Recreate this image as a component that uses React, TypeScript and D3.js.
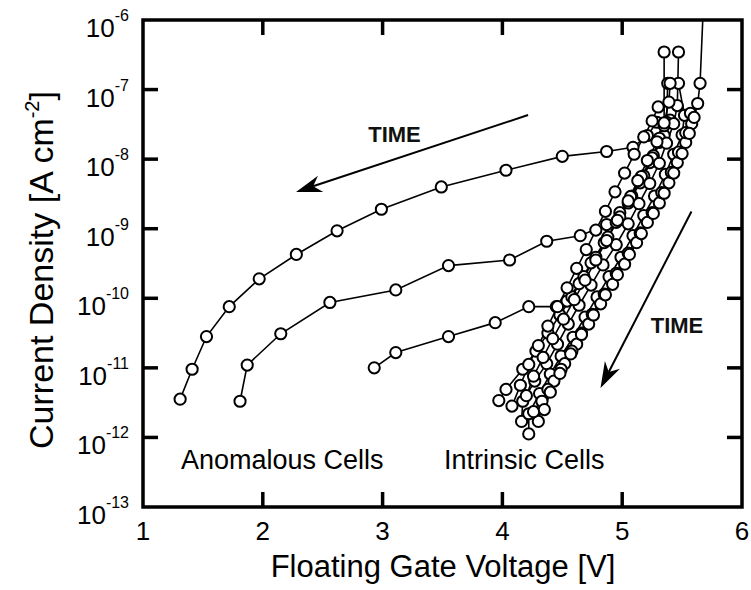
import React from 'react';
import * as d3 from 'd3';

// ---- axis ticks ----
const xTickValues = [1, 2, 3, 4, 5, 6];
const yTickExponents = [-6, -7, -8, -9, -10, -11, -12, -13];

// ---- data: [floating gate voltage (V), log10 current density (A/cm^2)] ----
const anomalousA: [number, number][] = [
  [1.31, -11.45], [1.41, -11.02], [1.53, -10.55], [1.72, -10.12], [1.97, -9.72],
  [2.28, -9.37], [2.62, -9.03], [2.99, -8.72], [3.49, -8.40], [4.03, -8.16],
  [4.50, -7.96], [4.87, -7.89], [5.09, -7.83], [5.21, -7.66], [5.29, -7.47],
];
const anomalousB: [number, number][] = [
  [1.81, -11.48], [1.87, -10.96], [2.15, -10.51], [2.56, -10.06], [3.11, -9.88],
  [3.55, -9.53], [4.06, -9.45], [4.37, -9.18], [4.65, -9.10], [4.87, -8.94],
  [4.98, -8.77], [5.08, -8.53], [5.18, -8.24], [5.26, -7.95], [5.35, -7.66], [5.40, -7.44],
];
const anomalousC: [number, number][] = [
  [2.93, -11.00], [3.11, -10.78], [3.55, -10.55], [3.94, -10.35], [4.22, -10.12],
  [4.45, -10.12], [4.54, -10.04], [4.64, -9.79], [4.74, -9.49], [4.85, -9.20],
  [4.95, -8.91], [5.05, -8.63], [5.15, -8.34], [5.23, -8.05], [5.31, -7.76],
  [5.37, -7.47], [5.38, -6.91],
];
const intrinsic1: [number, number][] = [
  [3.97, -11.47], [4.03, -11.31], [4.17, -11.02], [4.28, -10.76], [4.38, -10.50],
  [4.48, -10.24], [4.58, -9.98], [4.68, -9.69], [4.78, -9.41], [4.88, -9.12],
  [4.98, -8.83], [5.07, -8.54], [5.16, -8.25], [5.25, -7.98], [5.31, -7.70],
  [5.35, -7.52], [5.35, -6.46],
];
const intrinsic2: [number, number][] = [
  [4.16, -11.77], [4.17, -11.48], [4.27, -11.19], [4.37, -10.94], [4.46, -10.66],
  [4.55, -10.37], [4.64, -10.10], [4.74, -9.81], [4.84, -9.52], [4.95, -9.23],
  [5.05, -8.93], [5.14, -8.64], [5.23, -8.35], [5.31, -8.06], [5.37, -7.77],
  [5.43, -7.49], [5.46, -7.23], [5.47, -6.46],
];
const intrinsic3: [number, number][] = [
  [4.22, -11.95], [4.22, -11.66], [4.31, -11.37], [4.40, -11.09], [4.49, -10.83],
  [4.59, -10.56], [4.69, -10.27], [4.79, -9.98], [4.89, -9.69], [4.99, -9.41],
  [5.09, -9.10], [5.18, -8.81], [5.27, -8.53], [5.36, -8.22], [5.43, -7.93],
  [5.50, -7.65], [5.52, -7.37], [5.47, -6.91],
];
const intrinsic4: [number, number][] = [
  [4.30, -11.77], [4.33, -11.48], [4.43, -11.19], [4.52, -10.94], [4.62, -10.66],
  [4.72, -10.37], [4.82, -10.08], [4.92, -9.80], [5.02, -9.51], [5.12, -9.20],
  [5.21, -8.91], [5.31, -8.63], [5.39, -8.34], [5.46, -8.05], [5.53, -7.76],
  [5.58, -7.49], [5.63, -7.20], [5.65, -6.91], [5.69, -5.28],
];
const intrinsic5: [number, number][] = [
  [4.26, -11.63], [4.38, -11.31], [4.49, -11.02], [4.58, -10.76], [4.66, -10.50],
  [4.75, -10.23], [4.85, -9.94], [4.95, -9.64], [5.05, -9.35], [5.15, -9.06],
  [5.25, -8.77], [5.33, -8.48], [5.41, -8.19], [5.47, -7.90], [5.53, -7.62],
  [5.57, -7.34],
];
const intrinsic6: [number, number][] = [
  [4.08, -11.55], [4.15, -11.25], [4.22, -10.95], [4.30, -10.68], [4.38, -10.40],
  [4.46, -10.12], [4.54, -9.85], [4.62, -9.57], [4.70, -9.30], [4.78, -9.02],
  [4.86, -8.75], [4.94, -8.47], [5.02, -8.20], [5.10, -7.93], [5.18, -7.68],
  [5.25, -7.45], [5.30, -7.25],
];
const intrinsic7: [number, number][] = [
  [4.20, -11.40], [4.26, -11.12], [4.34, -10.85], [4.42, -10.58], [4.51, -10.30],
  [4.60, -10.02], [4.69, -9.74], [4.78, -9.45], [4.87, -9.17], [4.96, -8.88],
  [5.05, -8.60], [5.13, -8.31], [5.21, -8.02], [5.29, -7.75], [5.35, -7.48],
  [5.39, -7.18], [5.40, -6.91],
];
const intrinsic8: [number, number][] = [
  [4.35, -11.60], [4.40, -11.35], [4.48, -11.08], [4.57, -10.80], [4.66, -10.52],
  [4.76, -10.24], [4.86, -9.95], [4.96, -9.66], [5.06, -9.37], [5.16, -9.07],
  [5.26, -8.78], [5.35, -8.49], [5.43, -8.20], [5.50, -7.92], [5.56, -7.63],
  [5.60, -7.40],
];

const allCurves = [
  anomalousA, anomalousB, anomalousC,
  intrinsic1, intrinsic2, intrinsic3, intrinsic4, intrinsic5,
  intrinsic6, intrinsic7, intrinsic8,
];

// TIME arrows: [from, to] in [V, log10 J]
const timeArrows: [[number, number], [number, number]][] = [
  [[4.214, -7.366], [2.277, -8.472]],
  [[5.578, -8.753], [4.819, -11.29]],
];

const FONT = '"Liberation Sans", Arial, Helvetica, sans-serif';

export default function App() {
  const W = 751;
  const H = 590;
  const left = 143;
  const right = 742;
  const top = 20;
  const bottom = 507;

  const x = d3.scaleLinear().domain([1, 6]).range([left, right]);
  const y = d3.scaleLog().domain([1e-13, 1e-6]).range([bottom, top]);
  const px = (d: [number, number]) => x(d[0]);
  const py = (d: [number, number]) => y(Math.pow(10, d[1]));
  const line = d3.line<[number, number]>().x(px).y(py);

  const tickLen = 15;
  const frameW = 3.5;

  const arrowHead = (from: [number, number], to: [number, number]) => {
    const x1 = px(from), y1 = py(from), x2 = px(to), y2 = py(to);
    const dx = x1 - x2, dy = y1 - y2;
    const len = Math.hypot(dx, dy);
    const ux = dx / len, uy = dy / len;
    const nx = -uy, ny = ux;
    const L = 26, hw = 8.5, notch = 18;
    const pts = [
      [x2, y2],
      [x2 + ux * L + nx * hw, y2 + uy * L + ny * hw],
      [x2 + ux * notch, y2 + uy * notch],
      [x2 + ux * L - nx * hw, y2 + uy * L - ny * hw],
    ];
    return {
      d: 'M' + pts.map((p) => p[0].toFixed(1) + ',' + p[1].toFixed(1)).join('L') + 'Z',
      lx: x2 + ux * notch,
      ly: y2 + uy * notch,
      x1,
      y1,
    };
  };

  return (
    <svg
      width={W}
      height={H}
      style={{ position: 'absolute', left: 0, top: 0, background: '#fff' }}
      fontFamily={FONT}
    >
      <defs>
        <clipPath id="plotClip">
          <rect x={left} y={top} width={right - left} height={bottom - top} />
        </clipPath>
      </defs>
      <rect x={0} y={0} width={W} height={H} fill="#fff" />

      {/* curves */}
      <g clipPath="url(#plotClip)">
        {allCurves.map((c, i) => (
          <path key={'l' + i} d={line(c) || ''} fill="none" stroke="#000" strokeWidth={1.6} />
        ))}
        {allCurves.map((c, i) =>
          c
            .filter((d) => d[1] <= -6)
            .map((d, j) => (
              <circle
                key={'c' + i + '-' + j}
                cx={px(d)}
                cy={py(d)}
                r={5.6}
                fill="#fff"
                stroke="#000"
                strokeWidth={2}
              />
            ))
        )}
      </g>

      {/* frame */}
      <rect
        x={left}
        y={top}
        width={right - left}
        height={bottom - top}
        fill="none"
        stroke="#000"
        strokeWidth={frameW}
      />

      {/* x ticks (bottom and top, inward) */}
      {xTickValues.slice(1, -1).map((v) => (
        <g key={'xt' + v}>
          <line x1={x(v)} x2={x(v)} y1={bottom} y2={bottom - tickLen} stroke="#000" strokeWidth={frameW} />
          <line x1={x(v)} x2={x(v)} y1={top} y2={top + tickLen} stroke="#000" strokeWidth={frameW} />
        </g>
      ))}
      {xTickValues.map((v) => (
        <text key={'xl' + v} x={x(v)} y={540} fontSize={26} textAnchor="middle" fill="#000">
          {v}
        </text>
      ))}

      {/* y ticks (left and right, inward) */}
      {yTickExponents.slice(1, -1).map((e) => (
        <g key={'yt' + e}>
          <line x1={left} x2={left + tickLen} y1={y(Math.pow(10, e))} y2={y(Math.pow(10, e))} stroke="#000" strokeWidth={frameW} />
          <line x1={right} x2={right - tickLen} y1={y(Math.pow(10, e))} y2={y(Math.pow(10, e))} stroke="#000" strokeWidth={frameW} />
        </g>
      ))}
      {yTickExponents.map((e) => (
        <text key={'yl' + e} x={129} y={y(Math.pow(10, e)) + 17} fontSize={26} textAnchor="end" fill="#000">
          10
          <tspan fontSize={16} dy={-16}>
            {String(e)}
          </tspan>
        </text>
      ))}

      {/* axis titles */}
      <text x={443} y={577} fontSize={31} textAnchor="middle" fill="#000">
        Floating Gate Voltage [V]
      </text>
      <text
        transform={`translate(53, 270) rotate(-90)`}
        fontSize={34}
        textAnchor="middle"
        fill="#000"
      >
        Current Density [A cm
        <tspan fontSize={20} dy={-14}>-2</tspan>
        <tspan dy={14}>]</tspan>
      </text>

      {/* annotations */}
      {timeArrows.map(([from, to], i) => {
        const h = arrowHead(from, to);
        return (
          <g key={'ar' + i}>
            <line x1={h.x1} y1={h.y1} x2={h.lx} y2={h.ly} stroke="#000" strokeWidth={2} />
            <path d={h.d} fill="#000" />
          </g>
        );
      })}
      <text x={394.5} y={142} fontSize={22} fontWeight="bold" textAnchor="middle" fill="#111">
        TIME
      </text>
      <text x={677} y={333} fontSize={22} fontWeight="bold" textAnchor="middle" fill="#111">
        TIME
      </text>
      <text x={181} y={469} fontSize={27} fill="#000">
        Anomalous Cells
      </text>
      <text x={444} y={469} fontSize={27} fill="#000">
        Intrinsic Cells
      </text>
    </svg>
  );
}
